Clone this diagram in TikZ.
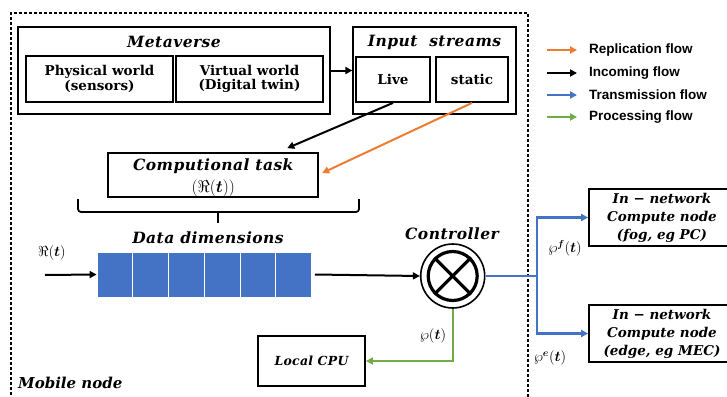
\RequirePackage{fix-cm}
\documentclass[tikz,border=0pt]{standalone}
\usepackage{amsmath}
\usepackage{fontspec}
\setmainfont{DejaVu Serif}
\newfontfamily\legfont{Liberation Sans}
\usetikzlibrary{arrows.meta,calc}
\definecolor{corange}{HTML}{ED7D31}
\definecolor{cblue}{HTML}{4472C4}
\definecolor{cgreen}{HTML}{70AD47}
\begin{document}
\begin{tikzpicture}[x=1pt,y=-1pt,
  boxb/.style={draw,line width=1.8pt,inner sep=0pt,align=center,font=\fontsize{13.5}{14.5}\selectfont\bfseries},
  frame/.style={draw,line width=1.3pt,inner sep=0pt},
  ttl/.style={inner sep=0pt,font=\fontsize{15.5}{17}\selectfont\bfseries\itshape\addfontfeature{LetterSpace=3}},
  lbl/.style={inner sep=0pt,font=\fontsize{14.5}{16}\selectfont},
  blk/.style={fill=cblue,draw=white,line width=0.8pt,minimum width=35.75pt,minimum height=45pt,inner sep=0pt},
  arr/.style={line width=2pt,-{Triangle[length=7pt,width=7pt]}},
  legarr/.style={line width=2pt,-{Triangle[length=7pt,width=7pt]}},
  legtext/.style={anchor=west,inner sep=0pt,font=\legfont\fontsize{13.5}{15}\selectfont\bfseries},
  netbox/.style={draw,line width=1.8pt,inner sep=0pt,align=center,minimum width=146pt,font=\fontsize{13.5}{18}\selectfont\bfseries\itshape}
]
\useasboundingbox (0,0) rectangle (727,396);
\clip (0,0) rectangle (727,396);
\fill[white] (0,0) rectangle (727,396);

% mobile node frame
\draw[line width=1.1pt,dash pattern=on 3pt off 2pt] (11,400) -- (11,13) -- (528,13) -- (528,400);
\node[inner sep=0pt,anchor=west,font=\fontsize{15}{17}\selectfont\bfseries\itshape] (mobile) at (18,383) {Mobile node};

% Metaverse
\node[frame,minimum width=312pt,minimum height=87pt] (meta) at (174,70.5) {};
\node[ttl] (metat) at (174,42) {Metaverse};
\node[boxb,minimum width=147pt,minimum height=46pt] (phys) at (99.5,79) {Physical world\\(sensors)};
\node[boxb,minimum width=147pt,minimum height=46pt] (virt) at (249.5,79) {Virtual world\\(Digital twin)};

% Input streams
\node[frame,minimum width=163pt,minimum height=87pt] (inp) at (434.5,70.5) {};
\node[ttl] (inpt) at (434.5,42) {Input\ \ streams};
\node[boxb,minimum width=74pt,minimum height=45pt] (live) at (393,79.5) {Live};
\node[boxb,minimum width=72pt,minimum height=45pt] (static) at (472,79.5) {static};
\draw[arr] (meta.east) -- (inp.west);

% Computational task
\node[boxb,minimum width=210pt,minimum height=44pt] (comp) at (213.3,175) {};
\node[ttl] (compt) at (213.3,166) {Computional task};
\node[inner sep=0pt,font=\fontsize{17}{19}\selectfont] (compr) at (213.3,188.5) {$(\Re(\boldsymbol{t}))$};
\draw[arr] (live.south) -- ($(comp.north)+(74,-4)$);
\draw[arr,corange] (static.south) -- ($(comp.east)+(3,-2)$);

% brace
\draw[line width=1.8pt,rounded corners=3pt] (78,199) -- (78,212) -- (359,212) -- (359,199);
\draw[line width=2.4pt] (218,212) -- (218,223);

% data dimensions
\node[ttl] (ddt) at (208,238) {Data dimensions};
\foreach \i in {1,...,6} \node[blk] (b\i) at ({97+35.75*(\i-0.5)},274.5) {};
\node[lbl] (rin) at (52,253) {$\Re(\boldsymbol{t})$};
\coordinate (rstart) at (45,275);
\draw[arr] (rstart) -- (b1.west);

% controller
\node[circle,draw,line width=1.6pt,minimum size=64pt,inner sep=0pt] (ctrl) at (452.7,276) {};
\node[circle,draw,line width=3.2pt,minimum size=49pt,inner sep=0pt] (ctrlin) at (ctrl.center) {};
\draw[line width=3.2pt] (ctrlin.north east) -- (ctrlin.south west);
\draw[line width=3.2pt] (ctrlin.north west) -- (ctrlin.south east);
\node[ttl] (ctrlt) at (452,234) {Controller};
\draw[arr] ($(b6.east)+(3,0)$) -- (ctrl.west);

% local CPU
\node[boxb,minimum width=107pt,minimum height=50pt,font=\fontsize{12.5}{14}\selectfont\bfseries\itshape\addfontfeature{LetterSpace=2}] (cpu) at (311.5,361) {Local CPU};
\draw[arr,cgreen] (ctrl.south) |- (cpu.east);
\node[lbl] (wp) at (433,336) {$\wp(\boldsymbol{t})$};

% transmission
\node[netbox,minimum height=57pt] (fog) at (662,217.5) {In − network\\Compute node\\(fog, eg PC)};
\node[netbox,minimum height=57pt] (edge) at (662,333.5) {In − network\\Compute node\\(edge, eg MEC)};
\coordinate (split) at (537,276);
\draw[line width=2.2pt,cblue] (ctrl.east) -- (split);
\draw[arr,cblue,line width=2.2pt] (split) |- (fog.west);
\draw[arr,cblue,line width=2.2pt] (split) |- (edge.west);
\node[lbl] (wpf) at (565,248) {$\wp^{\boldsymbol{f}}(\boldsymbol{t})$};
\node[lbl] (wpe) at (550,358) {$\wp^{\boldsymbol{e}}(\boldsymbol{t})$};

% legend
\foreach \y/\c/\t [count=\k] in {50/corange/Replication flow,73/black/Incoming flow,95/cblue/Transmission flow,117/cgreen/Processing flow}{
  \coordinate (la\k) at (547,\y);
  \coordinate (lb\k) at (577,\y);
  \draw[legarr,\c] (la\k) -- (lb\k);
  \node[legtext] (lt\k) at (589,\y) {\t};
}
\end{tikzpicture}
\end{document}
